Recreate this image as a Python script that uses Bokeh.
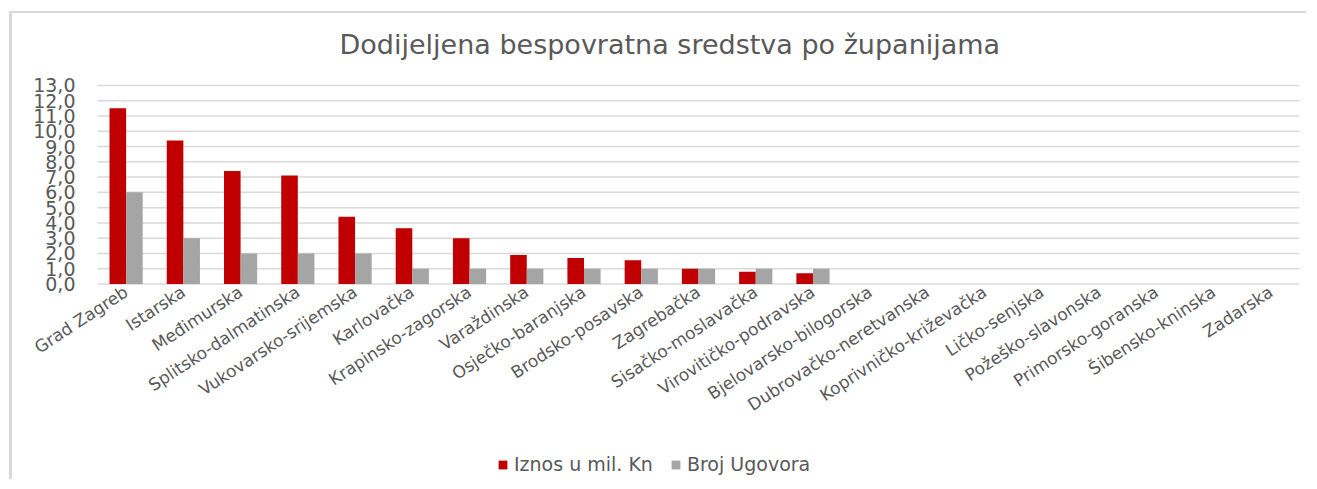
from bokeh.plotting import figure
from bokeh.models import ColumnDataSource, Legend, LegendItem, Range1d, FixedTicker
from bokeh.transform import dodge
from bokeh.embed import file_html
from bokeh.resources import INLINE

counties = ["Grad Zagreb", "Istarska", "Međimurska", "Splitsko-dalmatinska",
            "Vukovarsko-srijemska", "Karlovačka", "Krapinsko-zagorska", "Varaždinska",
            "Osječko-baranjska", "Brodsko-posavska", "Zagrebačka", "Sisačko-moslavačka",
            "Virovitičko-podravska", "Bjelovarsko-bilogorska", "Dubrovačko-neretvanska",
            "Koprivničko-križevačka", "Ličko-senjska", "Požeško-slavonska",
            "Primorsko-goranska", "Šibensko-kninska", "Zadarska"]
iznos = [11.5, 9.4, 7.4, 7.1, 4.4, 3.65, 3.0, 1.9, 1.7, 1.55, 1.0, 0.8, 0.7,
         0, 0, 0, 0, 0, 0, 0, 0]
broj = [6, 3, 2, 2, 2, 1, 1, 1, 1, 1, 1, 1, 1, 0, 0, 0, 0, 0, 0, 0, 0]
y_ticks = list(range(0, 14))
y_labels = ["0,0", "1,0", "2,0", "3,0", "4,0", "5,0", "6,0", "7,0", "8,0",
            "9,0", "10,0", "11,0", "12,0", "13,0"]
title_text = "Dodijeljena bespovratna sredstva po županijama"
series_names = ["Iznos u mil. Kn", "Broj Ugovora"]

RED = "#C00000"
GRAY = "#A5A5A5"
TXT = "#595959"
FONT = "DejaVu Sans"

n = len(counties)
xs = list(range(n))
src = ColumnDataSource(dict(x=xs, c=counties, iznos=iznos, broj=broj))
grid_src = ColumnDataSource(dict(y=y_ticks))

# frame spans nearly the whole canvas; category slots start at -0.5, value axis in the upper part
p = figure(x_range=Range1d(-1.985, n - 0.5), y_range=Range1d(-12.673, 13.849),
           width=1297, height=468, output_backend="svg", toolbar_location=None,
           min_border_left=0, min_border_right=10, min_border_top=58,
           min_border_bottom=4)
p.styles = {"margin-left": "9px", "margin-top": "11px",
            "border-left": "3px solid #d9d9d9", "border-top": "2px solid #d9d9d9",
            "border-right": "0px none", "border-bottom": "0px none"}
p.outline_line_color = None
p.xgrid.grid_line_color = None
p.ygrid.grid_line_color = None

# horizontal gridlines only across the category area
p.segment(x0=-0.5, x1=n - 0.5, y0="y", y1="y", source=grid_src,
          line_color="#d9d9d9", line_width=1.5)

r1 = p.vbar(x=dodge("x", -0.145), top="iznos", width=0.29,
            source=src, fill_color=RED, line_color=None)
r2 = p.vbar(x=dodge("x", 0.145), top="broj", width=0.29,
            source=src, fill_color=GRAY, line_color=None)

p.yaxis.ticker = FixedTicker(ticks=y_ticks)
p.yaxis.major_label_overrides = {t: l for t, l in zip(y_ticks, y_labels)}
p.yaxis.fixed_location = -0.5
p.xaxis.ticker = FixedTicker(ticks=xs)
p.xaxis.major_label_overrides = {i: c for i, c in zip(xs, counties)}
p.xaxis.fixed_location = 0
for ax in (p.xaxis[0], p.yaxis[0]):
    ax.axis_line_color = None
    ax.major_tick_line_color = None
    ax.minor_tick_line_color = None
    ax.major_tick_out = 0
    ax.major_tick_in = 0
    ax.minor_tick_out = 0
    ax.minor_tick_in = 0
    ax.major_label_text_color = TXT
    ax.major_label_text_font = FONT
p.yaxis.major_label_text_font_size = "19px"
p.yaxis.major_label_standoff = 22
p.xaxis.major_label_text_font_size = "17px"
p.xaxis.major_label_orientation = 0.58
p.xaxis.major_label_standoff = 6

p.title.text = title_text
p.title.align = "left"
p.title.offset = 327
p.title.text_font = FONT
p.title.text_font_size = "27px"
p.title.text_font_style = "normal"
p.title.text_color = TXT
p.title.standoff = 26

legend = Legend(items=[LegendItem(label=series_names[0], renderers=[r1]),
                       LegendItem(label=series_names[1], renderers=[r2])],
                orientation="horizontal", location=(485, 2),
                label_text_font=FONT, label_text_font_size="19px",
                label_text_color=TXT, glyph_width=11, glyph_height=11,
                label_standoff=6, spacing=17, padding=0, margin=0,
                border_line_color=None, background_fill_alpha=0)
p.add_layout(legend)

open("out.html", "w").write(file_html(p, INLINE))
